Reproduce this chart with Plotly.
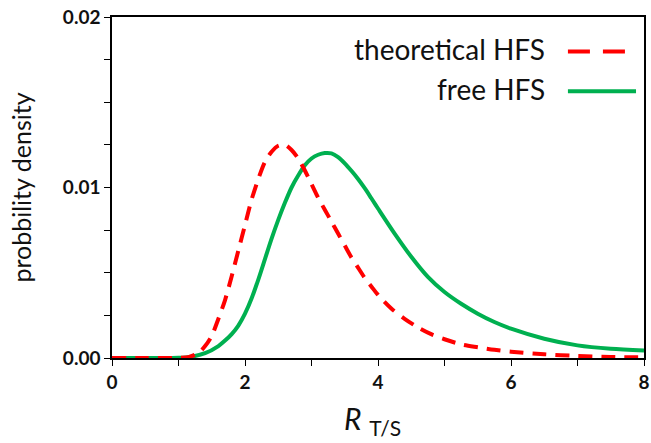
import plotly.graph_objects as go

# Theoretical HFS (red dashed)
x_theo = [0, 0.5, 1.0, 1.15, 1.3, 1.4, 1.5, 1.6, 1.7, 1.8, 1.9, 2.0, 2.1, 2.2, 2.3, 2.4, 2.5, 2.6,
          2.7, 2.8, 2.9, 3.0, 3.1, 3.2, 3.3, 3.4, 3.5, 3.6, 3.7, 3.8, 3.9, 4.0, 4.2, 4.4, 4.6,
          4.8, 5.0, 5.25, 5.5, 5.75, 6.0, 6.5, 7.0, 7.5, 8.0]
y_theo = [0, 0, 0.00001, 0.00005, 0.0003, 0.0007, 0.0013, 0.0023, 0.0034, 0.0048, 0.0063, 0.0078,
          0.0093, 0.0105, 0.0115, 0.0121, 0.01245, 0.0125, 0.0122, 0.0117, 0.0110, 0.0102, 0.0094,
          0.0087, 0.0080, 0.0073, 0.0066, 0.0059, 0.0053, 0.0047, 0.0042, 0.0037, 0.0029, 0.0023,
          0.0018, 0.0014, 0.0011, 0.0008, 0.00063, 0.00048, 0.00037, 0.00022, 0.00012, 0.00006,
          0.00004]

# Free HFS (green solid)
x_free = [0, 0.5, 1.0, 1.2, 1.4, 1.6, 1.7, 1.8, 1.9, 2.0, 2.1, 2.2, 2.3, 2.4, 2.5, 2.6, 2.7, 2.8,
          2.9, 3.0, 3.1, 3.2, 3.3, 3.4, 3.5, 3.6, 3.7, 3.8, 3.9, 4.0, 4.25, 4.5, 4.75, 5.0, 5.25,
          5.5, 5.75, 6.0, 6.5, 7.0, 7.5, 8.0]
y_free = [0, 0, 0.00001, 0.00008, 0.00028, 0.0007, 0.00102, 0.0014, 0.0019, 0.0026, 0.0035,
          0.0046, 0.0058, 0.0070, 0.0081, 0.0091, 0.0100, 0.0107, 0.0113, 0.0117, 0.01192,
          0.01202, 0.01200, 0.01178, 0.01142, 0.01098, 0.01050, 0.00996, 0.00937, 0.00877,
          0.00730, 0.00594, 0.00476, 0.00387, 0.00318, 0.00260, 0.00211, 0.00172, 0.00113,
          0.00074, 0.00054, 0.00044]

series_names = ["theoretical HFS", "free HFS"]
x_title = "<i>R</i> <sub>T/S</sub>"
y_title = "probbility density"
red = "#FF0000"
green = "#00B050"
font_family = "Lato, 'Liberation Sans', sans-serif"

fig = go.Figure()
fig.add_trace(go.Scatter(x=x_free, y=y_free, mode="lines", name=series_names[1],
                         line=dict(color=green, width=4, shape="spline", smoothing=0.8),
                         showlegend=False))
fig.add_trace(go.Scatter(x=x_theo, y=y_theo, mode="lines", name=series_names[0],
                         line=dict(color=red, width=4, dash="14px,9px", shape="spline", smoothing=0.8),
                         showlegend=False))

# Legend built as text + sample lines (sample sits right of the text)
legend_rows = [(series_names[0], red, "22px,13px", 0.905), (series_names[1], green, "solid", 0.788)]
for name, col, dash, yp in legend_rows:
    fig.add_annotation(xref="paper", yref="paper", x=0.818, y=yp, text=name, showarrow=False,
                       xanchor="right", yanchor="middle",
                       font=dict(family=font_family, size=28, color="#111111"))
    fig.add_shape(type="line", xref="paper", yref="paper", x0=0.857, x1=0.985, y0=yp - 0.006,
                  y1=yp - 0.006, line=dict(color=col, width=4, dash=dash))

# X-axis title placed as an annotation to sit low like the reference
fig.add_annotation(xref="paper", yref="paper", x=0.49, y=-0.245, text=x_title, showarrow=False,
                   xanchor="center", yanchor="bottom",
                   font=dict(family=font_family, size=30, color="#111111"))

fig.update_layout(
    width=651, height=443,
    margin=dict(l=112, r=5, t=15, b=85),
    paper_bgcolor="white", plot_bgcolor="white",
    font=dict(family=font_family, color="#111111"),
)
fig.update_xaxes(
    range=[0, 8], tickvals=[0, 2, 4, 6, 8], ticktext=["0", "2", "4", "6", "8"],
    ticks="outside", ticklen=6, tickcolor="black", tickwidth=1,
    minor=dict(dtick=1, ticks="outside", ticklen=6, tickcolor="black", tickwidth=1),
    showline=True, linecolor="black", linewidth=1.5, mirror=True,
    showgrid=False, zeroline=False,
    tickfont=dict(family=font_family, size=19, color="#111111", weight="bold"),
    automargin=False,
)
fig.update_yaxes(
    range=[0, 0.02], tickvals=[0, 0.01, 0.02], ticktext=["0.00", "0.01", "0.02"],
    ticks="outside", ticklen=6, tickcolor="black", tickwidth=1,
    minor=dict(dtick=0.0025, ticks="outside", ticklen=6, tickcolor="black", tickwidth=1),
    showline=True, linecolor="black", linewidth=1.5, mirror=True,
    showgrid=False, zeroline=False,
    tickfont=dict(family=font_family, size=19, color="#111111", weight="bold"),
    title=dict(text=y_title, font=dict(family=font_family, size=25, color="#111111"),
               standoff=24),
)

fig.write_html("out.html")
